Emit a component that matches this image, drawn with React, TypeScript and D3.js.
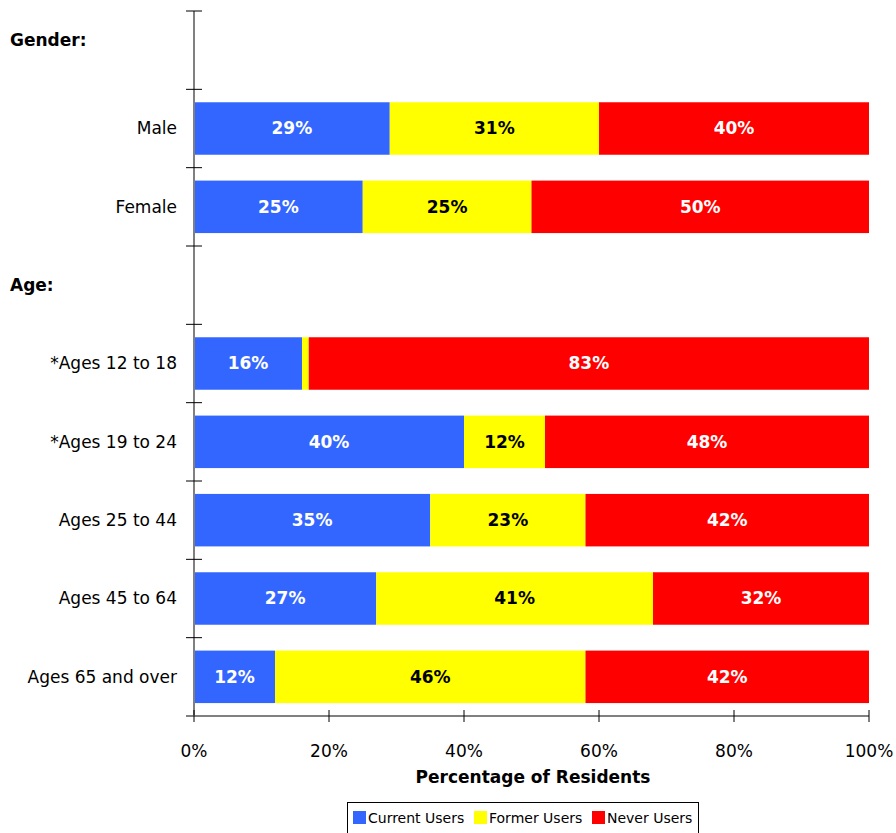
import React from "react";
import * as d3 from "d3";

const rows = ["Gender:", "Male", "Female", "Age:", "*Ages 12 to 18", "*Ages 19 to 24", "Ages 25 to 44", "Ages 45 to 64", "Ages 65 and over"];
const headers = ["Gender:", "Age:"];
const seriesNames = ["Current Users", "Former Users", "Never Users"];
const currentUsers = [null, 29, 25, null, 16, 40, 35, 27, 12];
const formerUsers = [null, 31, 25, null, 1, 12, 23, 41, 46];
const neverUsers = [null, 40, 50, null, 83, 48, 42, 32, 42];
const xTicks = [0, 20, 40, 60, 80, 100];
const colors = ["#3366FF", "#FFFF00", "#FF0000"];
const labelColors = ["#FFFFFF", "#000000", "#FFFFFF"];

const W = 896, H = 833;
const left = 194, right = 869, top = 11, bottom = 716;
const font = "'DejaVu Sans', sans-serif";

export default function App() {
  const x = d3.scaleLinear().domain([0, 100]).range([left, right]);
  const y = d3.scaleBand().domain(rows).range([top, bottom]).paddingInner(0).paddingOuter(0);
  const bh = y.bandwidth() * 0.67;
  const series = [currentUsers, formerUsers, neverUsers];
  const tickYs = rows.map((r) => y(r) as number).concat([bottom]);

  return (
    <div style={{ position: "absolute", left: 0, top: 0 }}>
      <svg width={W} height={H} style={{ display: "block", background: "#fff" }}>
        {rows.map((r, i) => {
          if (headers.includes(r)) return null;
          let acc = 0;
          const yc = (y(r) as number) + y.bandwidth() / 2;
          return (
            <g key={r}>
              {series.map((s, k) => {
                const v = s[i] as number;
                const x0 = x(acc);
                acc += v;
                const x1 = x(acc);
                return (
                  <g key={k}>
                    <rect x={x0} y={yc - bh / 2} width={x1 - x0} height={bh} fill={colors[k]} />
                    {v >= 5 && (
                      <text x={(x0 + x1) / 2} y={yc} dy="0.35em" textAnchor="middle" fontFamily={font} fontWeight="bold" fontSize={17} fill={labelColors[k]}>
                        {v}%
                      </text>
                    )}
                  </g>
                );
              })}
            </g>
          );
        })}
        {/* y axis */}
        <line x1={left} x2={left} y1={top} y2={bottom} stroke="#808080" strokeWidth={2} />
        {tickYs.map((ty, i) => (
          <line key={i} x1={left - 8} x2={left + 8} y1={ty} y2={ty} stroke="#000" strokeWidth={1} />
        ))}
        {/* x axis */}
        <line x1={left - 8} x2={right} y1={bottom} y2={bottom} stroke="#808080" strokeWidth={2} />
        {xTicks.map((t) => (
          <g key={t}>
            <line x1={x(t)} x2={x(t)} y1={bottom - 6} y2={bottom + 6} stroke="#000" strokeWidth={1} />
            <text x={x(t)} y={757} textAnchor="middle" fontFamily={font} fontSize={17} fill="#000">
              {t}%
            </text>
          </g>
        ))}
        {rows.map((r) => {
          const yc = (y(r) as number) + y.bandwidth() / 2;
          if (headers.includes(r)) {
            const off = r === "Gender:" ? -10 : 0;
            return (
              <text key={r} x={10} y={yc + off} dy="0.35em" fontFamily={font} fontWeight="bold" fontSize={17} fill="#000">
                {r}
              </text>
            );
          }
          return (
            <text key={r} x={177} y={yc} dy="0.35em" textAnchor="end" fontFamily={font} fontSize={17} fill="#000">
              {r}
            </text>
          );
        })}
        <text x={533} y={783} textAnchor="middle" fontFamily={font} fontWeight="bold" fontSize={17} fill="#000">
          Percentage of Residents
        </text>
        {/* legend */}
        <rect x={347.5} y={802.5} width={351} height={40} fill="#fff" stroke="#000" strokeWidth={1} />
        {seriesNames.map((n, i) => {
          const xs = [353, 474, 592][i];
          return (
            <g key={n}>
              <rect x={xs} y={811} width={13} height={13} fill={colors[i]} />
              <text x={xs + 15} y={823} fontFamily={font} fontSize={14} fill="#000">
                {n}
              </text>
            </g>
          );
        })}
        <text x={10} y={841} fontFamily={font} fontSize={11} fill="#000">
          Current users = daily users, former users = daily users
        </text>
      </svg>
    </div>
  );
}
